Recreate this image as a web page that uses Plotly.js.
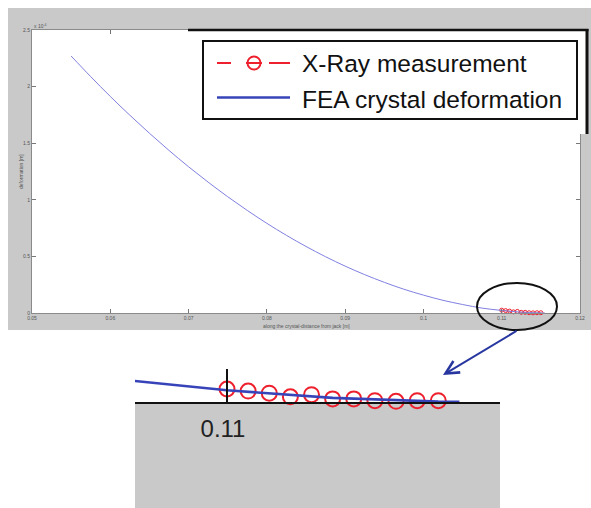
<!DOCTYPE html>
<html>
<head>
<meta charset="utf-8">
<script src="https://cdn.plot.ly/plotly-3.0.1.min.js"></script>
<style>html,body{margin:0;padding:0;background:#fff;}#chart{width:591px;height:508px;}</style>
</head>
<body>
<div id="chart"></div>
<script>
// ---- data (deformation in units of 1e-4 m) ----
const feaX = [0.055,0.0575,0.06,0.0625,0.065,0.0675,0.07,0.0725,0.075,0.0775,0.08,0.0825,0.085,0.0875,0.09,0.0925,0.095,0.0975,0.1,0.1025,0.105,0.1075,0.11,0.1125,0.115,0.1155];
const feaY = [2.270,2.088,1.913,1.747,1.588,1.436,1.292,1.156,1.027,0.906,0.792,0.686,0.588,0.497,0.414,0.339,0.271,0.210,0.158,0.112,0.075,0.043,0.0226,0.0079,0.0007,0.0002];
const xrayX = [0.11,0.1105,0.111,0.1115,0.112,0.1125,0.113,0.1135,0.114,0.1145,0.115];
const xrayY = [0.025,0.021,0.017,0.010,0.014,0.006,0.006,0.0025,0.0013,0.0025,0.0025];
const xTickVals = [0.05,0.06,0.07,0.08,0.09,0.1,0.11,0.12];
const xTickText = ['0.05','0.06','0.07','0.08','0.09','0.1','0.11','0.12'];
const yTickVals = [0,0.5,1,1.5,2,2.5];
const yTickText = ['0','0.5','1','1.5','2','2.5'];
const legendNames = ['X-Ray measurement','FEA crystal deformation'];
const xTitle = 'along the crystal-distance from jack [m]';
const yTitle = 'deformation [m]';

// ---- pixel -> paper helpers ----
const W = 591, H = 508;
const X = p => p / W, Y = p => 1 - p / H;

const gray = '#c9c9c9';
const red = 'rgb(238,32,45)';
const blueLight = 'rgb(128,128,225)';
const blueDark = 'rgb(55,68,185)';

const traces = [
  {x: xrayX, y: xrayY, xaxis: 'x', yaxis: 'y', mode: 'lines+markers', cliponaxis: false,
   line: {color: red, width: 0.8, dash: 'dash'},
   marker: {symbol: 'circle-open', size: 4, color: red, line: {width: 1, color: red}},
   name: legendNames[0], showlegend: false},
  {x: feaX, y: feaY, xaxis: 'x', yaxis: 'y', mode: 'lines',
   line: {color: blueLight, width: 1, shape: 'spline'}, name: legendNames[1], showlegend: false},
  {x: xrayX, y: xrayY, xaxis: 'x2', yaxis: 'y2', mode: 'markers', cliponaxis: false,
   marker: {symbol: 'circle-open', size: 15, color: red, line: {width: 2, color: red}},
   name: legendNames[0], showlegend: false},
  {x: feaX, y: feaY, xaxis: 'x2', yaxis: 'y2', mode: 'lines',
   line: {color: blueDark, width: 2.6}, name: legendNames[1], showlegend: false}
];

const smallFont = {family: 'Liberation Sans, Arial, sans-serif', size: 5, color: '#555'};
const bigFont = {family: 'Liberation Sans, Arial, sans-serif', size: 24.5, color: '#111'};

const layout = {
  width: W, height: H, autosize: false,
  margin: {l: 0, r: 0, t: 0, b: 0, pad: 0},
  paper_bgcolor: '#ffffff', plot_bgcolor: 'rgba(0,0,0,0)',
  showlegend: false,
  xaxis: {domain: [X(32), X(580)], range: [0.05, 0.12], tickvals: xTickVals, ticktext: xTickText,
    ticks: 'inside', ticklen: 4, tickwidth: 1, tickcolor: '#777', showline: true, linecolor: '#8a8a8a',
    linewidth: 1, mirror: 'ticks', showgrid: false, zeroline: false, tickfont: smallFont, fixedrange: true},
  yaxis: {domain: [Y(313), Y(30)], range: [0, 2.5], tickvals: yTickVals, ticktext: yTickText,
    ticks: 'inside', ticklen: 4, tickwidth: 1, tickcolor: '#777', showline: true, linecolor: '#8a8a8a',
    linewidth: 1, mirror: 'ticks', showgrid: false, zeroline: false, tickfont: smallFont, fixedrange: true},
  xaxis2: {domain: [X(135), X(500)], range: [0.107823, 0.11646], anchor: 'y2',
    tickvals: [0.11], ticktext: ['0.11'], ticks: 'inside', ticklen: 33, tickwidth: 2, tickcolor: '#111',
    showline: true, linecolor: '#111', linewidth: 2, showgrid: false, zeroline: false,
    tickfont: {family: 'Liberation Sans, Arial, sans-serif', size: 24, color: '#222'},
    ticklabelshift: -4, ticklabelstandoff: 4, fixedrange: true},
  yaxis2: {domain: [Y(402), Y(340)], range: [0, 0.1192], anchor: 'x2', visible: false, fixedrange: true},
  shapes: [
    {type: 'rect', xref: 'paper', yref: 'paper', x0: X(8), x1: X(591), y0: Y(330), y1: Y(8),
     fillcolor: gray, line: {width: 0}, layer: 'below'},
    {type: 'rect', xref: 'paper', yref: 'paper', x0: X(32), x1: X(580), y0: Y(313), y1: Y(30),
     fillcolor: '#ffffff', line: {width: 0}, layer: 'below'},
    {type: 'rect', xref: 'paper', yref: 'paper', x0: X(135), x1: X(500), y0: Y(508), y1: Y(402),
     fillcolor: gray, line: {width: 0}, layer: 'below'},
    {type: 'rect', xref: 'paper', yref: 'paper', x0: X(188), x1: X(588), y0: Y(134), y1: Y(29),
     fillcolor: '#ffffff', line: {width: 0}, layer: 'above'},
    {type: 'line', xref: 'paper', yref: 'paper', x0: X(188), x1: X(588.5), y0: Y(30), y1: Y(30),
     line: {color: '#111', width: 2.5}, layer: 'above'},
    {type: 'line', xref: 'paper', yref: 'paper', x0: X(587), x1: X(587), y0: Y(29), y1: Y(134),
     line: {color: '#111', width: 3}, layer: 'above'},
    {type: 'rect', xref: 'paper', yref: 'paper', x0: X(203), x1: X(577), y0: Y(119), y1: Y(41),
     fillcolor: '#ffffff', line: {color: '#111', width: 2}, layer: 'above'},
    {type: 'line', xref: 'paper', yref: 'paper', x0: X(217), x1: X(231), y0: Y(63), y1: Y(63),
     line: {color: red, width: 2}, layer: 'above'},
    {type: 'line', xref: 'paper', yref: 'paper', x0: X(246), x1: X(262), y0: Y(63), y1: Y(63),
     line: {color: red, width: 2}, layer: 'above'},
    {type: 'line', xref: 'paper', yref: 'paper', x0: X(269), x1: X(290), y0: Y(63), y1: Y(63),
     line: {color: red, width: 2}, layer: 'above'},
    {type: 'circle', xref: 'paper', yref: 'paper', x0: X(247.5), x1: X(260.5), y0: Y(69.5), y1: Y(56.5),
     line: {color: red, width: 2}, layer: 'above'},
    {type: 'line', xref: 'paper', yref: 'paper', x0: X(217), x1: X(290), y0: Y(97.5), y1: Y(97.5),
     line: {color: blueDark, width: 2.5}, layer: 'above'},
    {type: 'circle', xref: 'paper', yref: 'paper', x0: X(477), x1: X(557), y0: Y(330), y1: Y(283),
     line: {color: '#111', width: 2}, layer: 'above'}
  ],
  annotations: [
    {xref: 'paper', yref: 'paper', x: X(300), y: Y(63), xanchor: 'left', yanchor: 'middle',
     text: legendNames[0], showarrow: false, font: bigFont},
    {xref: 'paper', yref: 'paper', x: X(300), y: Y(99), xanchor: 'left', yanchor: 'middle',
     text: legendNames[1], showarrow: false, font: bigFont},
    {xref: 'paper', yref: 'paper', x: X(306), y: Y(326), xanchor: 'center', yanchor: 'middle',
     text: xTitle, showarrow: false, font: smallFont},
    {xref: 'paper', yref: 'paper', x: X(21), y: Y(172), xanchor: 'center', yanchor: 'middle',
     text: yTitle, textangle: -90, showarrow: false, font: smallFont},
    {xref: 'paper', yref: 'paper', x: X(32), y: Y(26), xanchor: 'left', yanchor: 'middle',
     text: 'x 10<sup>-4</sup>', showarrow: false, font: smallFont},
    {xref: 'paper', yref: 'paper', x: X(443), y: Y(375), text: '', showarrow: true,
     axref: 'pixel', ayref: 'pixel', ax: 75, ay: -45,
     arrowhead: 5, arrowsize: 1.3, arrowwidth: 2, arrowcolor: 'rgb(40,55,160)', standoff: 0, startstandoff: 0}
  ]
};

Plotly.newPlot('chart', traces, layout, {staticPlot: true, displayModeBar: false});
</script>
</body>
</html>
